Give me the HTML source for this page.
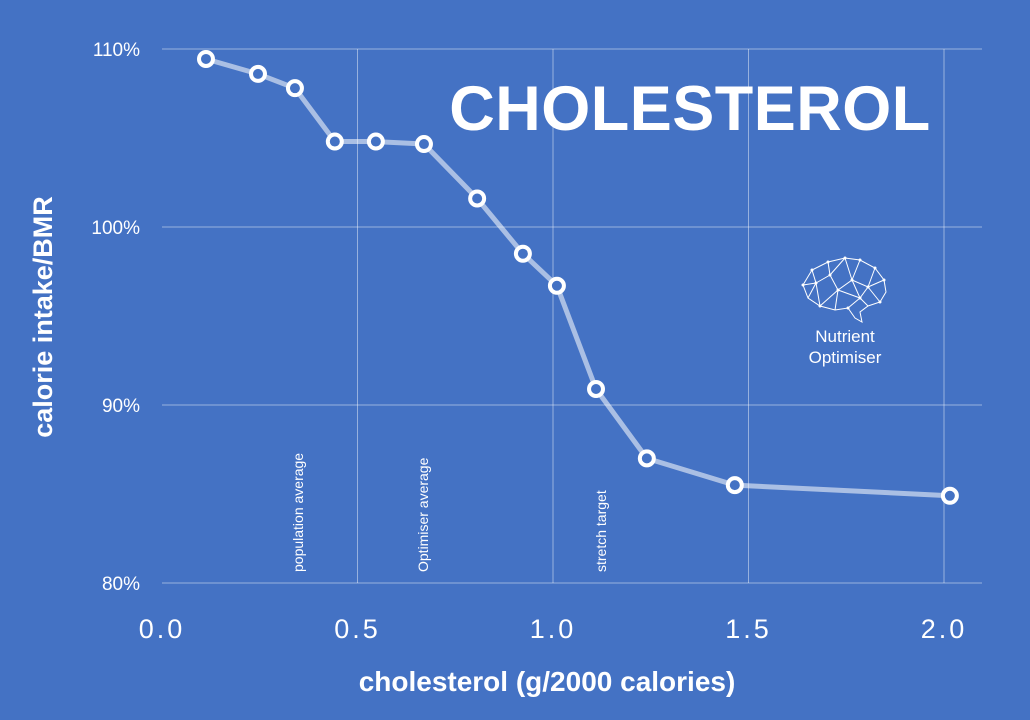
<!DOCTYPE html>
<html><head><meta charset="utf-8">
<style>
html,body{margin:0;padding:0;background:#4472C4;}
svg{display:block;font-family:"Liberation Sans",sans-serif;}
</style></head>
<body>
<svg id="chart" width="1030" height="720" viewBox="0 0 1030 720" xmlns="http://www.w3.org/2000/svg">
<rect width="1030" height="720" fill="#4472C4"/>
<g id="grid"></g>
<g id="ticks"></g>
<g id="annots"></g>
<g id="series"></g>
<text x="690" y="130" text-anchor="middle" font-size="63" font-weight="bold" fill="#fff" letter-spacing="0.5">CHOLESTEROL</text>
<text x="547" y="691" text-anchor="middle" font-size="28" font-weight="bold" fill="#fff">cholesterol (g/2000 calories)</text>
<text transform="translate(52,317) rotate(-90)" text-anchor="middle" font-size="27" font-weight="bold" fill="#fff">calorie intake/BMR</text>
<g stroke="#fff" stroke-width="1" fill="none">
<path d="M803,285 L812,270 L828,262 L845,258 L860,260 L875,268 L884,280 L886,292 L880,302 L868,306 L860,312 L862,322 L855,318 L848,308 L835,310 L820,306 L808,298 Z"/>
<path d="M812,270 L816,283 L803,285 M816,283 L830,275 L828,262 M830,275 L845,258 M830,275 L838,290 L852,280 L845,258 M852,280 L860,260 M852,280 L868,287 L875,268 M868,287 L884,280 M868,287 L880,302 M868,287 L860,298 L852,280 M860,298 L838,290 M860,298 L848,308 M838,290 L835,310 M838,290 L820,306 M816,283 L820,306 M816,283 L808,298 M860,298 L868,306 M830,275 L816,283"/>
<g fill="#fff" stroke="none">
<circle cx="803" cy="285" r="1.5"/><circle cx="812" cy="270" r="1.5"/><circle cx="828" cy="262" r="1.5"/><circle cx="845" cy="258" r="1.5"/><circle cx="860" cy="260" r="1.5"/><circle cx="875" cy="268" r="1.5"/><circle cx="884" cy="280" r="1.5"/><circle cx="880" cy="302" r="1.5"/><circle cx="868" cy="287" r="1.5"/><circle cx="852" cy="280" r="1.5"/><circle cx="838" cy="290" r="1.5"/><circle cx="816" cy="283" r="1.5"/><circle cx="830" cy="275" r="1.5"/><circle cx="860" cy="298" r="1.5"/><circle cx="848" cy="308" r="1.5"/><circle cx="820" cy="306" r="1.5"/>
</g>
</g>
<text x="845" y="342" text-anchor="middle" font-size="17" fill="#fff">Nutrient</text>
<text x="845" y="363" text-anchor="middle" font-size="17" fill="#fff">Optimiser</text>
</svg>
<script>
const xValues = [0.1125, 0.2455, 0.340, 0.442, 0.547, 0.670, 0.806, 0.923, 1.010, 1.110, 1.240, 1.465, 2.015];
const yValues = [109.44, 108.6, 107.8, 104.8, 104.8, 104.66, 101.6, 98.5, 96.7, 90.9, 87.0, 85.5, 84.9];
const xTicks = [0.0, 0.5, 1.0, 1.5, 2.0];
const xTickLabels = ["0.0", "0.5", "1.0", "1.5", "2.0"];
const yTicks = [80, 90, 100, 110];
const yTickLabels = ["80%", "90%", "100%", "110%"];
const annotationX = [0.345, 0.665, 1.12];
const annotationLabels = ["population average", "Optimiser average", "stretch target"];

const NS = "http://www.w3.org/2000/svg";
const xs = v => 162 + v * 391;
const ys = v => 583 - (v - 80) * 17.8;
function mk(tag, attrs, parent) {
  const e = document.createElementNS(NS, tag);
  for (const k in attrs) e.setAttribute(k, attrs[k]);
  parent.appendChild(e);
  return e;
}
const grid = document.getElementById('grid');
const ticks = document.getElementById('ticks');
const annots = document.getElementById('annots');
const series = document.getElementById('series');

yTicks.forEach((t, i) => {
  const l = mk('line', {x1: 162, x2: 982, y1: ys(t), y2: ys(t), stroke: 'rgba(255,255,255,0.45)', 'stroke-width': 1}, grid);
  
  
  const tx = mk('text', {x: 140, y: ys(t) + 7, 'text-anchor': 'end', 'font-size': 19, fill: '#fff'}, ticks);
  tx.textContent = yTickLabels[i];
  
  
});
xTicks.forEach((t, i) => {
  if (t > 0) {
    const l = mk('line', {x1: xs(t), x2: xs(t), y1: ys(110), y2: ys(80), stroke: 'rgba(255,255,255,0.45)', 'stroke-width': 1}, grid);
    
    
  }
  const tx = mk('text', {x: xs(t), y: 638, 'text-anchor': 'middle', 'font-size': 27, 'letter-spacing': 3, fill: '#fff'}, ticks);
  tx.textContent = xTickLabels[i];
  
  
});
annotationX.forEach((a, i) => {
  const tx = mk('text', {transform: `translate(${xs(a) + 6},${572}) rotate(-90)`, 'font-size': 14, fill: '#fff'}, annots);
  tx.textContent = annotationLabels[i];
  
  
});
const pts = xValues.map((x, i) => xs(x) + ',' + ys(yValues[i])).join(' ');
const pl = mk('polyline', {points: pts, fill: 'none', stroke: 'rgba(255,255,255,0.55)', 'stroke-width': 5, 'stroke-linejoin': 'round'}, series);


xValues.forEach((x, i) => {
  const c = mk('circle', {cx: xs(x), cy: ys(yValues[i]), r: 7, fill: '#4472C4', stroke: '#fff', 'stroke-width': 4}, series);
  
  
});
</script>
</body></html>
